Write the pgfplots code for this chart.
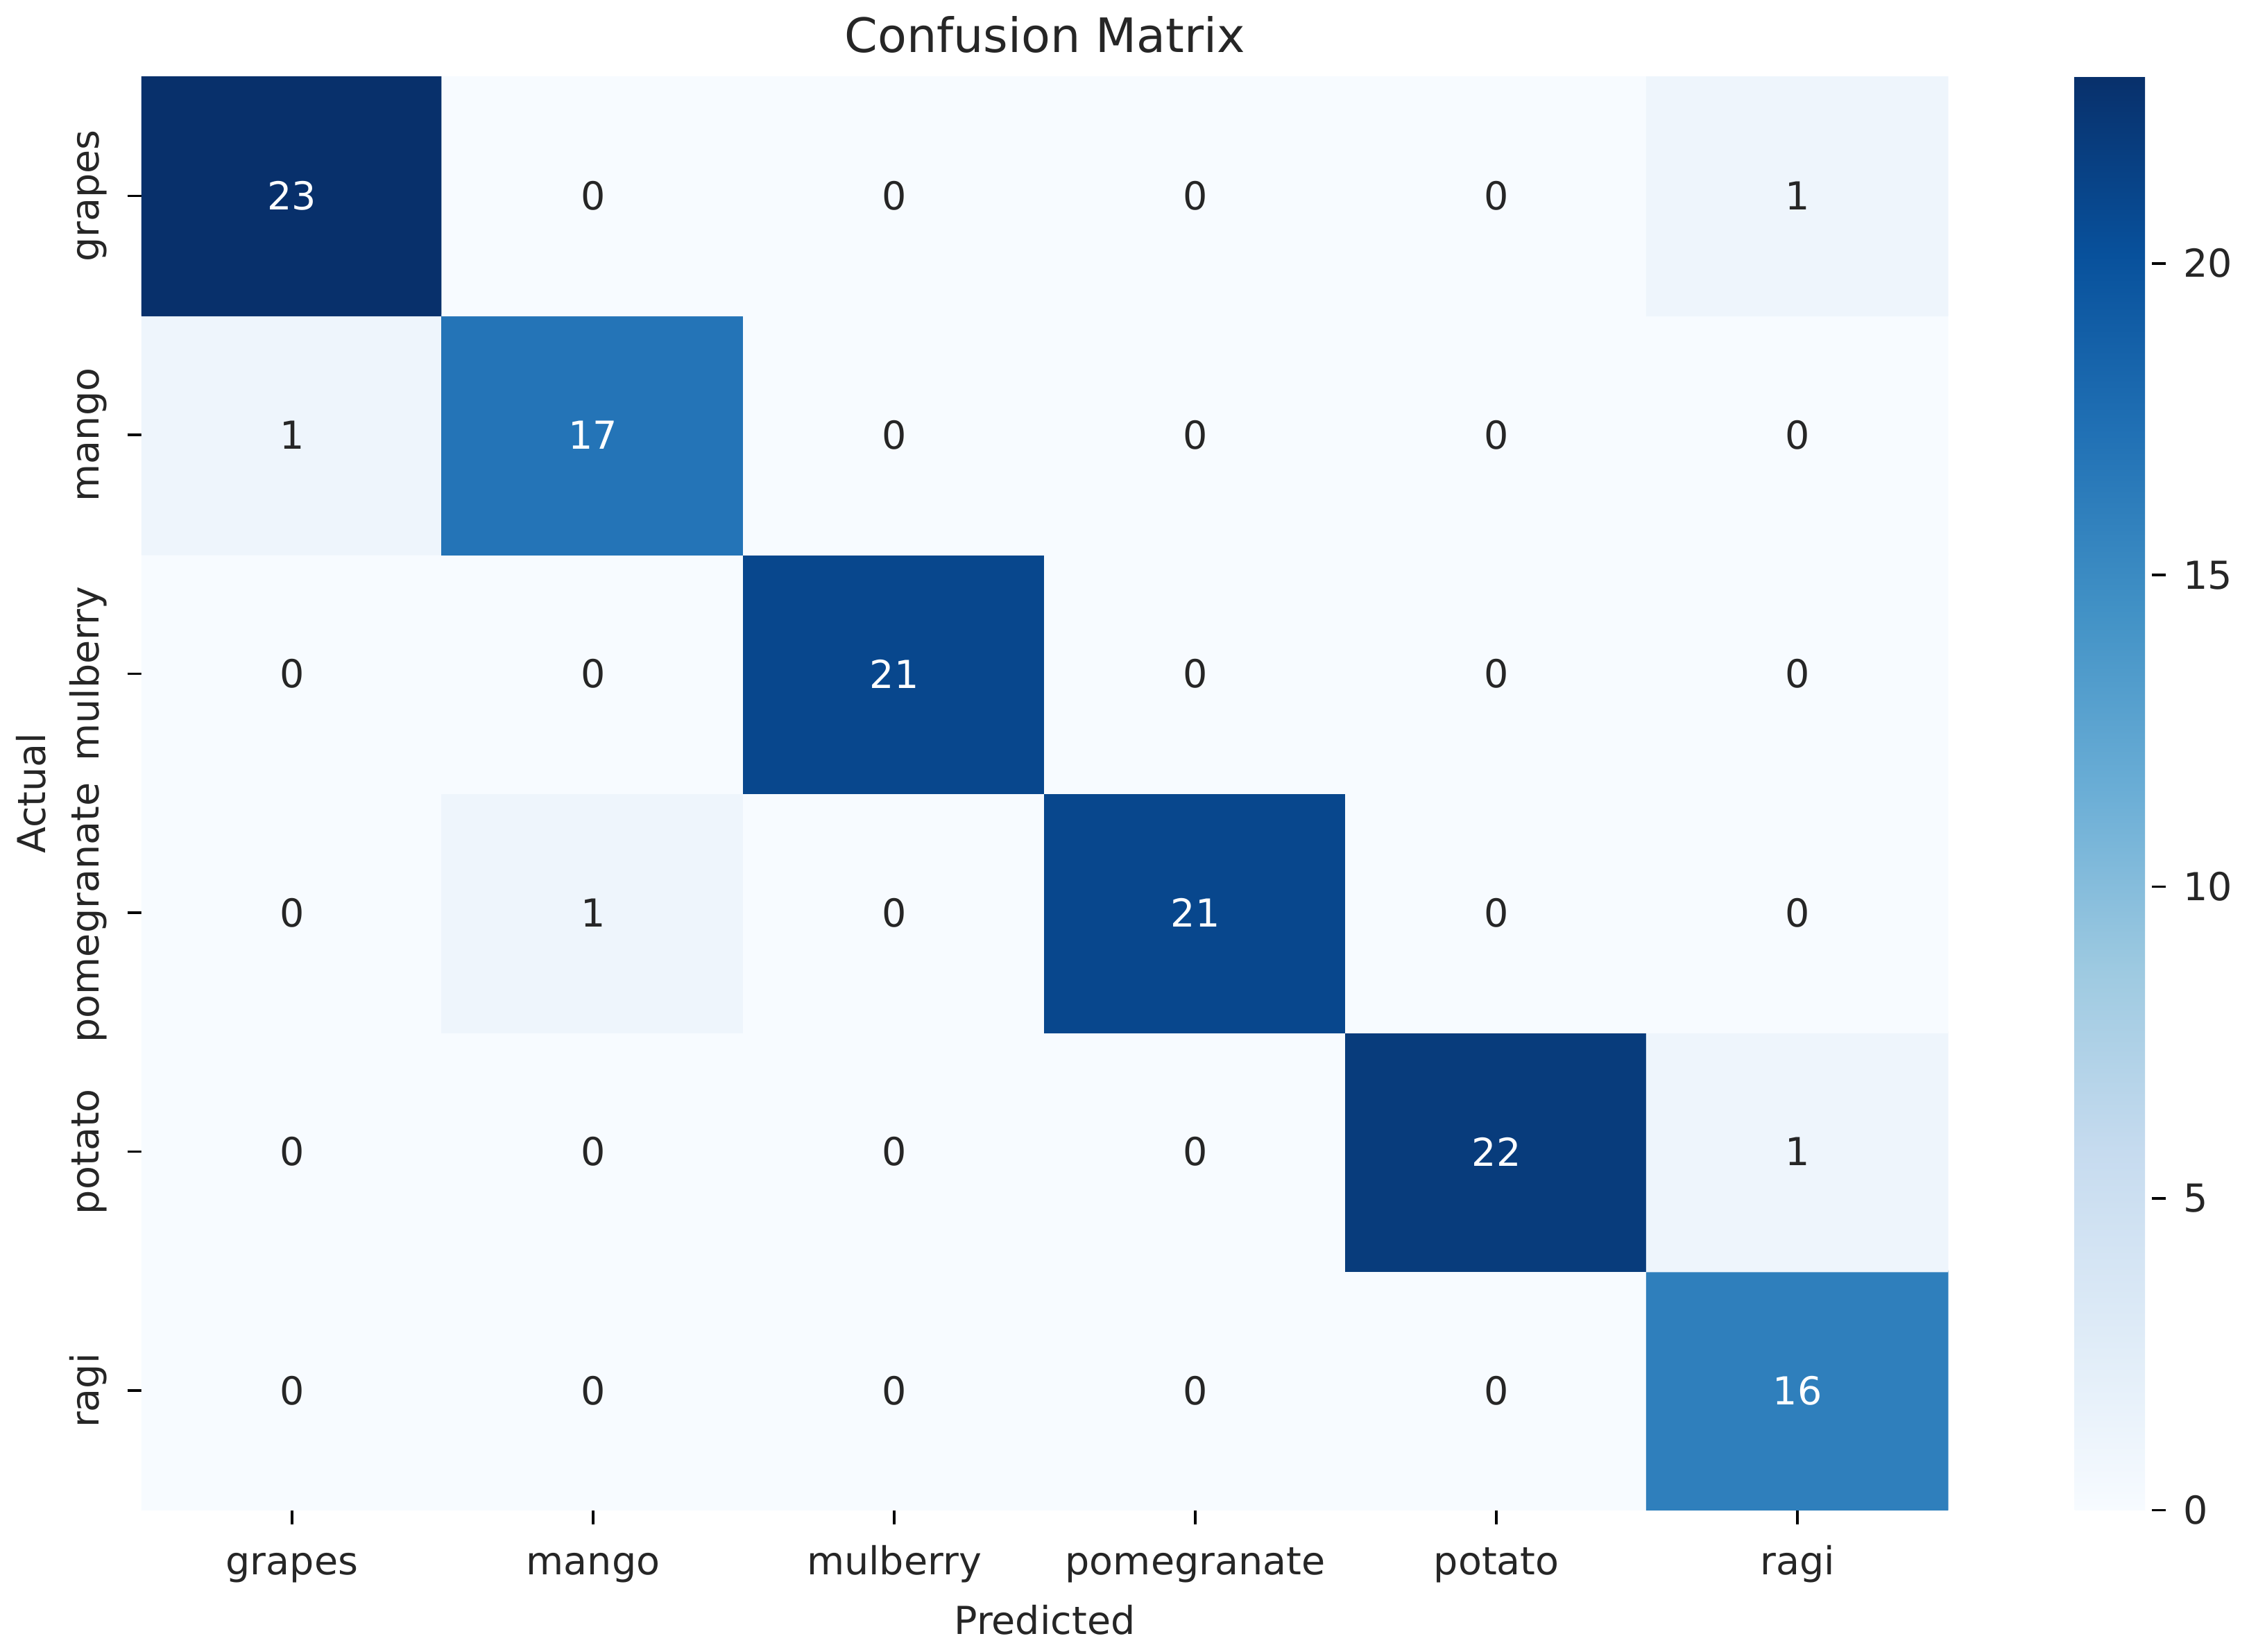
\documentclass[border=0pt]{standalone}
\usepackage{fontspec}
\setmainfont{DejaVu Sans}
\usepackage{pgfplots}
\pgfplotsset{compat=1.18}
\usepackage{pgfplotstable}

\definecolor{textgray}{RGB}{38,38,38}

% confusion matrix, y = 5 - row index (grapes at top)
\pgfplotstableread{
x y c
0 0 0
1 0 0
2 0 0
3 0 0
4 0 0
5 0 16
0 1 0
1 1 0
2 1 0
3 1 0
4 1 22
5 1 1
0 2 0
1 2 1
2 2 0
3 2 21
4 2 0
5 2 0
0 3 0
1 3 0
2 3 21
3 3 0
4 3 0
5 3 0
0 4 1
1 4 17
2 4 0
3 4 0
4 4 0
5 4 0
0 5 23
1 5 0
2 5 0
3 5 0
4 5 0
5 5 1
}\cmtable

\begin{document}
\begin{tikzpicture}
\begin{axis}[
    width=12.85cm, height=10.2cm, scale only axis,
    xmin=-0.5, xmax=5.5, ymin=-0.5, ymax=5.5,
    enlargelimits=false,
    axis line style={draw=none},
    tick pos=left, tick align=outside,
    major tick length=0.1cm,
    tick style={black, line width=0.5pt},
    xtick={0,...,5}, ytick={0,...,5},
    xticklabels={grapes,mango,mulberry,pomegranate,potato,ragi},
    yticklabels={ragi,potato,pomegranate,mulberry,mango,grapes},
    xticklabel style={text height=0.75em, text depth=0.22em, yshift=0.03cm},
    yticklabel style={rotate=90, anchor=south, text height=0.75em, text depth=0.22em},
    ticklabel style={font=\fontsize{7.8}{9}\selectfont, text=textgray},
    xlabel={Predicted}, ylabel={Actual},
    label style={font=\fontsize{7.8}{9}\selectfont, text=textgray},
    xlabel style={yshift=0.1cm},
    ylabel style={yshift=-0.13cm},
    title={Confusion Matrix},
    title style={font=\fontsize{9.6}{11}\selectfont, text=textgray, yshift=-0.17cm},
    /pgf/number format/assume math mode=true,
    colormap={blues}{
      rgb255=(247,251,255) rgb255=(222,235,247) rgb255=(198,219,239)
      rgb255=(158,202,225) rgb255=(107,174,214) rgb255=(66,146,198)
      rgb255=(33,113,181) rgb255=(8,81,156) rgb255=(8,48,107)},
    point meta min=0, point meta max=23,
    colorbar right,
    colorbar style={
      at={(parent axis.north east)}, anchor=north west, xshift=0.6cm,
      scale only axis,
      width=0.55cm,
      ytick={0,5,10,15,20},
      axis line style={draw=none},
      tick align=outside, ytick pos=right,
      major tick length=0.1cm,
      tick style={black, line width=0.5pt},
      yticklabel style={font=\fontsize{7.8}{9}\selectfont, text=textgray},
      /pgf/number format/assume math mode=true,
    },
]
\addplot[matrix plot*, mesh/cols=6, point meta=explicit] table[x=x, y=y, meta=c] {\cmtable};
\addplot[draw=none, mark=none, point meta=explicit symbolic,
    nodes near coords={\ifnum\pgfplotspointmeta>11 \color{white}\else\color{textgray}\fi\pgfplotspointmeta},
    nodes near coords align=center,
    every node near coord/.append style={font=\fontsize{7.8}{9}\selectfont, anchor=center}]
    table[x=x, y=y, meta=c] {\cmtable};
\end{axis}
\end{tikzpicture}
\end{document}
